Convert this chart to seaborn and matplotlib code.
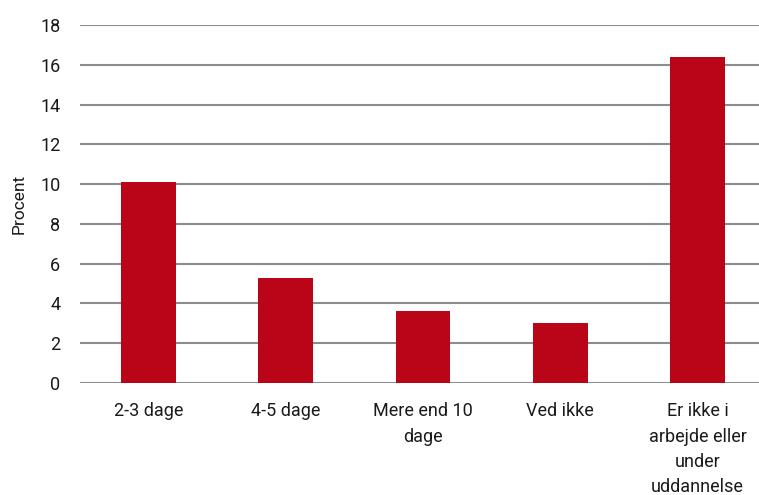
import pandas as pd
import numpy as np
import matplotlib
matplotlib.use('Agg')
import matplotlib.pyplot as plt
import seaborn as sns

# data
categories = ['2-3 dage', '4-5 dage', 'Mere end 10\ndage', 'Ved ikke',
              'Er ikke i\narbejde eller\nunder\nuddannelse']
values = [10.1, 5.3, 3.6, 3.0, 16.4]
yticks = [0, 2, 4, 6, 8, 10, 12, 14, 16, 18]

df = pd.DataFrame({'kategori': categories, 'procent': values})

sns.set_theme(style='white')
plt.rcParams['font.family'] = ['Roboto', 'DejaVu Sans']

fig = plt.figure(figsize=(7.59, 4.95), dpi=100)
ax = fig.add_axes([0.1053, 0.2263, 0.904, 0.7232])

ax.yaxis.grid(True, color='#8c8c8c', linewidth=1.5)
ax.set_axisbelow(True)
sns.barplot(data=df, x='kategori', y='procent', color='#ba0519',
            saturation=1, width=0.40, linewidth=0, ax=ax)

ax.set_ylim(0, 18)
ax.set_yticks(yticks)
ax.set_xlim(-0.5, 4.5)
for s in ax.spines.values():
    s.set_visible(False)
ax.tick_params(axis='both', length=0, labelsize=13, colors='#1a1a1a')
ax.tick_params(axis='y', pad=14)
ax.tick_params(axis='x', pad=14)
for lab in ax.get_xticklabels():
    lab.set_linespacing(1.52)
ax.set_xlabel('')
ax.set_ylabel('Procent', fontsize=12.5, color='#1a1a1a', labelpad=10)

fig.savefig('out.png', dpi=100)
